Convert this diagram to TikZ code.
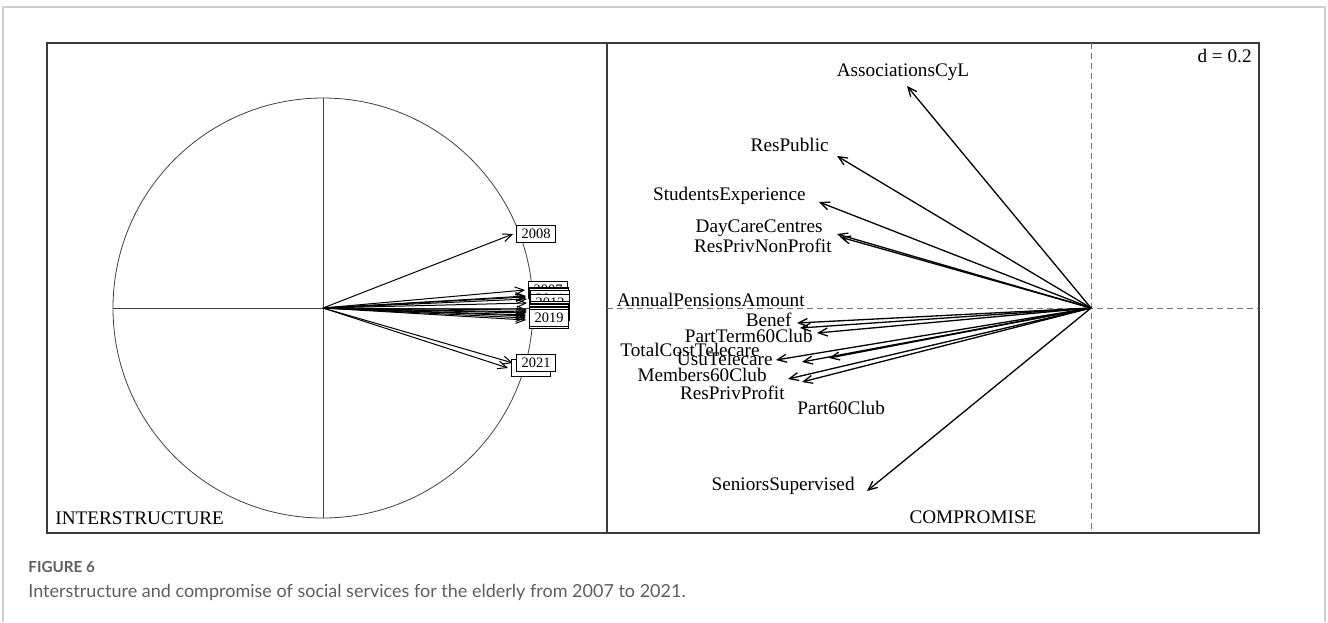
\documentclass[tikz,border=0pt]{standalone}
\usepackage{fontspec}
\setmainfont{Liberation Serif}
\newfontfamily\capfont{Lato}
\usetikzlibrary{arrows.meta,positioning}
\definecolor{framegray}{HTML}{3C3C3C}
\definecolor{outergray}{HTML}{CFCFCF}
\definecolor{captiongray}{HTML}{5E5E5E}
\tikzset{vec/.style={-{Straight Barb[length=4.5pt,width=4pt]}, line width=0.5pt}}
\tikzset{bigvec/.style={vec, line width=0.65pt}}
\tikzset{yearbox/.style={draw, fill=white, line width=0.5pt, inner xsep=2.6pt, inner ysep=0pt,
    minimum height=8.5pt, font=\fontsize{7.2}{8}\selectfont}}
\tikzset{varlabel/.style={inner sep=0pt, font=\fontsize{9.6}{11}\selectfont, text height=6.6pt, text depth=2pt}}
\tikzset{axisline/.style={draw=black!75, line width=0.4pt}}
\tikzset{dashaxis/.style={draw=black!55, dash pattern=on 3pt off 2pt, line width=0.5pt}}

\begin{document}
\begin{tikzpicture}[x=0.5pt,y=-0.5pt]
  \useasboundingbox (0,0) rectangle (1328,622);
  % outer page frame
  \draw[outergray, line width=0.6pt] (3,622) -- (3,7) -- (1325,7) -- (1325,622);
  % plot frame
  \draw[framegray, line width=0.8pt] (47,43) rectangle (1259,533) (607,43) -- (607,533);

  % interstructure
  \coordinate (o) at (323,308);
  \draw[axisline] (o) circle[radius=105pt];
  \draw[axisline] (323,98) -- (323,518) (113,308) -- (533,308);
  \coordinate (t2008) at (513,234);
  \coordinate (t2007) at (525,290);
  \coordinate (t2009) at (526,296);
  \coordinate (t2010) at (526,297);
  \coordinate (t2011) at (527,299);
  \coordinate (t2012) at (527,303);
  \coordinate (t2013) at (527,310);
  \coordinate (t2014) at (527,312);
  \coordinate (t2015) at (526,313);
  \coordinate (t2016) at (526,315);
  \coordinate (t2017) at (526,316);
  \coordinate (t2018) at (526,320);
  \coordinate (t2019) at (526,318);
  \coordinate (t2020) at (508,368);
  \coordinate (t2021) at (513,363);
  \path[vec]
  (o) edge (t2007) edge (t2008) edge (t2009) edge (t2010) edge (t2011)
  edge (t2012) edge (t2013) edge (t2014) edge (t2015) edge (t2016)
  edge (t2017) edge (t2018) edge (t2019) edge (t2020) edge (t2021);
  \node[yearbox, right=1.5pt of t2007] (y2007) {2007};
  \node[yearbox, right=1.5pt of t2008] (y2008) {2008};
  \node[yearbox, right=1.5pt of t2009] (y2009) {2009};
  \node[yearbox, right=1.5pt of t2010] (y2010) {2010};
  \node[yearbox, right=1.5pt of t2011] (y2011) {2011};
  \node[yearbox, right=1.5pt of t2012] (y2012) {2012};
  \node[yearbox, right=1.5pt of t2013] (y2013) {2013};
  \node[yearbox, right=1.5pt of t2014] (y2014) {2014};
  \node[yearbox, right=1.5pt of t2015] (y2015) {2015};
  \node[yearbox, right=1.5pt of t2016] (y2016) {2016};
  \node[yearbox, right=1.5pt of t2017] (y2017) {2017};
  \node[yearbox, right=1.5pt of t2018] (y2018) {2018};
  \node[yearbox, right=1.5pt of t2019] (y2019) {2019};
  \node[yearbox, right=1.5pt of t2020] (y2020) {2020};
  \node[yearbox, right=1.5pt of t2021] (y2021) {2021};
  \node[varlabel, anchor=west] (inter) at (55,520) {INTERSTRUCTURE};

  % compromise
  \coordinate (c) at (1091,308);
  \draw[dashaxis] (607,308) -- (1259,308) (1091,43) -- (1091,533);
  \coordinate (tAssoc) at (907,86);
  \coordinate (tResPub) at (837,156);
  \coordinate (tStud) at (819,202);
  \coordinate (tDayCare) at (837,234);
  \coordinate (tNonProfit) at (840,237);
  \coordinate (tBenef) at (797,323);
  \coordinate (tPensions) at (800,328);
  \coordinate (tPartTerm) at (817,333);
  \coordinate (tTotalCost) at (776,360);
  \coordinate (tUsuTele) at (802,362);
  \coordinate (tPart60) at (829,358);
  \coordinate (tMembers) at (788,379);
  \coordinate (tPrivProfit) at (802,382);
  \coordinate (tSeniors) at (867,491);
  \path[bigvec]
  (c) edge (tAssoc) edge (tResPub) edge (tStud) edge (tDayCare) edge (tNonProfit)
  edge (tBenef) edge (tPensions) edge (tPartTerm) edge (tTotalCost) edge (tUsuTele)
  edge (tPart60) edge (tMembers) edge (tPrivProfit) edge (tSeniors);
  \node[varlabel] (lAssoc) at (903,72) {AssociationsCyL};
  \node[varlabel, anchor=east] (lResPub) at (829,147) {ResPublic};
  \node[varlabel, anchor=east] (lStud) at (806,196) {StudentsExperience};
  \node[varlabel, anchor=east] (lDayCare) at (823,228) {DayCareCentres};
  \node[varlabel, anchor=east] (lNonProfit) at (832,248) {ResPrivNonProfit};
  \node[varlabel, anchor=east] (lPensions) at (805,302) {AnnualPensionsAmount};
  \node[varlabel, anchor=east] (lBenef) at (792,322) {Benef};
  \node[varlabel, anchor=east] (lPartTerm) at (813,338) {PartTerm60Club};
  \node[varlabel, anchor=east] (lTotalCost) at (760,352) {TotalCostTelecare};
  \node[varlabel, anchor=east] (lUsuTele) at (773,361) {UsuTelecare};
  \node[varlabel, anchor=east] (lMembers) at (767,377) {Members60Club};
  \node[varlabel, anchor=east] (lPrivProfit) at (785,395) {ResPrivProfit};
  \node[varlabel, anchor=west] (lPart60) at (797,410) {Part60Club};
  \node[varlabel, anchor=east] (lSeniors) at (855,486) {SeniorsSupervised};
  \node[varlabel] (compro) at (973,519) {COMPROMISE};
  \node[varlabel, anchor=east] (scale) at (1252,58) {d = 0.2};

  % caption
  \node[anchor=west, inner sep=0pt, text=captiongray, font=\capfont\bfseries\fontsize{7.6}{9}\selectfont]
    (fig) at (28,567) {FIGURE 6};
  \node[anchor=west, inner sep=0pt, text=captiongray, font=\capfont\fontsize{9}{11}\selectfont]
    (caption) at (28,592) {Interstructure and compromise of social services for the elderly from 2007 to 2021.};
\end{tikzpicture}
\end{document}
